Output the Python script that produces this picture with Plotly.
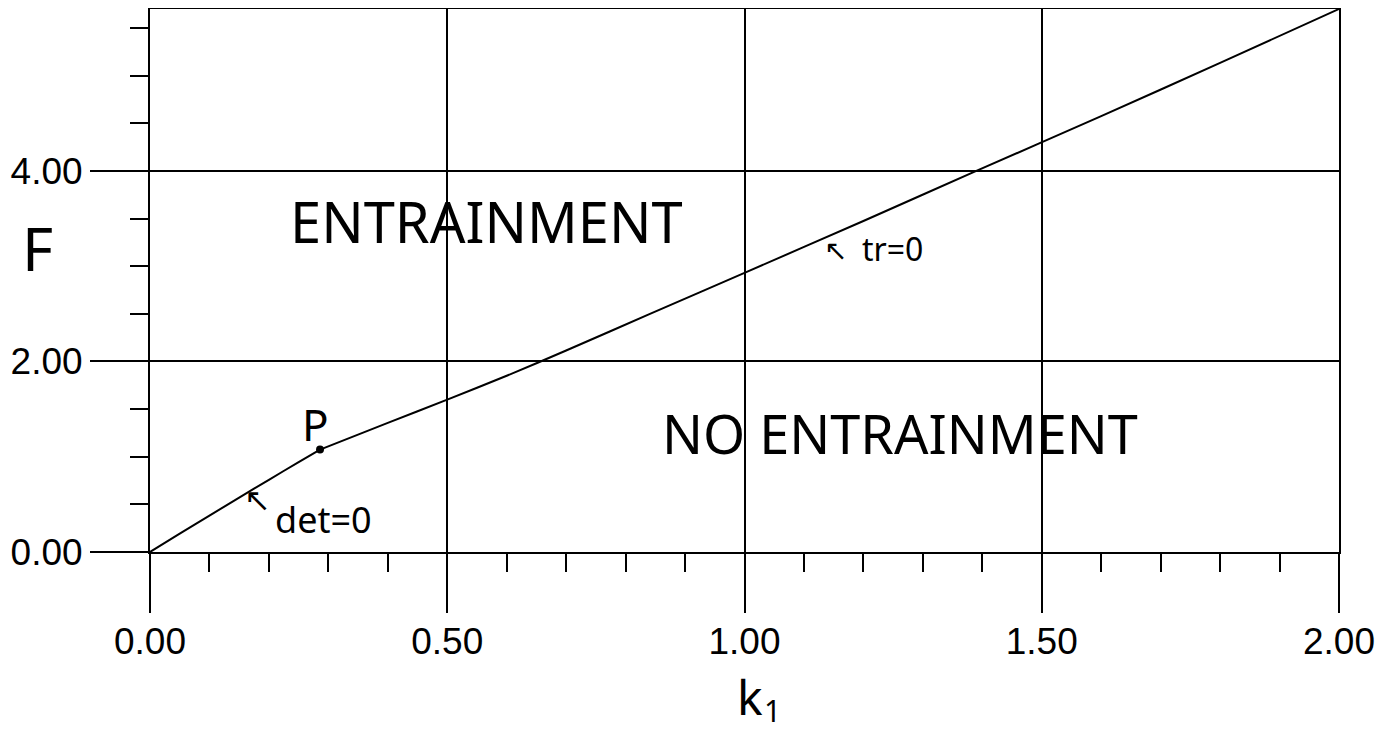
import plotly.graph_objects as go

# det=0 branch (from origin up to point P)
det0_k = [0.0, 0.05, 0.10, 0.15, 0.20, 0.25, 0.286]
det0_F = [0.0, 0.192, 0.382, 0.571, 0.758, 0.944, 1.075]

# tr=0 branch (from P to upper right)
tr0_k = [0.286, 0.40, 0.50, 0.60, 0.70, 0.841, 1.00, 1.20, 1.39, 1.60, 1.80, 2.00]
tr0_F = [1.075, 1.355, 1.60, 1.85, 2.115, 2.50, 2.93, 3.475, 4.00, 4.575, 5.135, 5.70]

P_k = [0.286]
P_F = [1.075]

x_range = [0.0, 2.0]
y_range = [0.0, 5.7]

fig = go.Figure()
fig.add_trace(go.Scatter(x=det0_k, y=det0_F, mode="lines",
                         line=dict(color="black", width=2, shape="spline", smoothing=0.8),
                         showlegend=False))
fig.add_trace(go.Scatter(x=tr0_k, y=tr0_F, mode="lines",
                         line=dict(color="black", width=2, shape="spline", smoothing=0.8),
                         showlegend=False))
fig.add_trace(go.Scatter(x=P_k, y=P_F, mode="markers",
                         marker=dict(color="black", size=8), showlegend=False))

tickfont = dict(family="Liberation Sans, Arial, sans-serif", size=37, color="black")
hand = "Noto Sans, DejaVu Sans, sans-serif"

fig.update_xaxes(
    range=x_range, dtick=0.5, tick0=0, tickformat=".2f",
    showline=True, linecolor="black", linewidth=2, mirror=True,
    showgrid=True, gridcolor="black", gridwidth=2,
    ticks="outside", ticklen=59, tickwidth=2, tickcolor="black",
    tickfont=tickfont, zeroline=False, ticklabelstandoff=-3,
    minor=dict(dtick=0.1, tick0=0, ticks="outside", ticklen=18,
               tickwidth=2, tickcolor="black", showgrid=False),
)
fig.update_yaxes(
    range=y_range, dtick=2, tick0=0, tickformat=".2f",
    showline=True, linecolor="black", linewidth=2, mirror=True,
    showgrid=True, gridcolor="black", gridwidth=2,
    ticks="outside", ticklen=58, tickwidth=2, tickcolor="black",
    tickfont=tickfont, zeroline=False,
    minor=dict(dtick=0.5, tick0=0, ticks="outside", ticklen=18,
               tickwidth=2, tickcolor="black", showgrid=False),
)

# page body adds an 8px offset; compensate in margins
OFF = 8
W, H = 1396, 733
L, R, T, B = 142, 65, 1, 189
pw, ph = W - L - R, H - T - B

def px(x):
    return (x - OFF - L) / pw

def py(y):
    return (H - B + OFF - y) / ph

annotations = [
    dict(text="ENTRAINMENT", x=px(486), y=py(221), size=56, fam=hand),
    dict(text="NO ENTRAINMENT", x=px(900), y=py(433), size=54, fam=hand),
    dict(text="P", x=px(315), y=py(424), size=44, fam=hand),
    dict(text="det=0", x=px(323), y=py(519), size=36, fam=hand),
    dict(text="↖", x=px(257), y=py(500), size=32, fam="DejaVu Sans"),
    dict(text="tr=0", x=px(892), y=py(248), size=32, fam=hand),
    dict(text="↖", x=px(835), y=py(250), size=28, fam="DejaVu Sans"),
    dict(text="F", x=px(38), y=py(248), size=60, fam=hand),
    dict(text="k", x=px(750), y=py(697), size=48, fam=hand),
    dict(text="1", x=px(772), y=py(710), size=30, fam=hand),
]
for a in annotations:
    fig.add_annotation(text=a["text"], x=a["x"], y=a["y"], xref="paper", yref="paper",
                       showarrow=False, xanchor="center", yanchor="middle",
                       font=dict(family=a["fam"], size=a["size"], color="black"))

fig.update_layout(
    width=W, height=H,
    margin=dict(l=L, r=R, t=T, b=B, autoexpand=False),
    paper_bgcolor="white", plot_bgcolor="white",
    showlegend=False,
)

fig.write_html("out.html")
